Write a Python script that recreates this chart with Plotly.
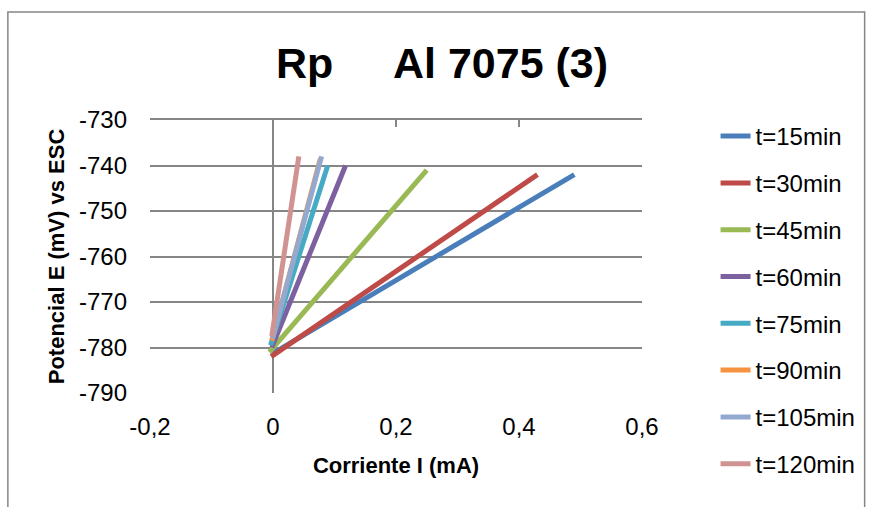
import plotly.graph_objects as go

# ---- data ----
series_names = ["t=15min", "t=30min", "t=45min", "t=60min",
                "t=75min", "t=90min", "t=105min", "t=120min"]
series_colors = ["#4A7EBB", "#BE4B48", "#98B954", "#7D60A0",
                 "#46AAC5", "#F69240", "#93A9CF", "#D19392"]

# current I (mA) and potential E (mV) for each run: [start, end]
i_t15 = [-0.003, 0.49]
e_t15 = [-781.5, -742.0]
i_t30 = [-0.003, 0.43]
e_t30 = [-782.0, -742.0]
i_t45 = [-0.006, 0.25]
e_t45 = [-781.0, -741.0]
i_t60 = [-0.002, 0.118]
e_t60 = [-780.0, -740.0]
i_t75 = [-0.004, 0.089]
e_t75 = [-779.5, -740.0]
i_t90 = [-0.002, 0.077]
e_t90 = [-778.5, -738.5]
i_t105 = [-0.001, 0.079]
e_t105 = [-778.0, -738.0]
i_t120 = [-0.002, 0.042]
e_t120 = [-777.5, -738.0]

x_tickvals = [-0.2, 0.0, 0.2, 0.4, 0.6]
x_ticktext = ["-0,2", "0", "0,2", "0,4", "0,6"]
y_tickvals = [-790, -780, -770, -760, -750, -740, -730]
y_ticktext = ["-790", "-780", "-770", "-760", "-750", "-740", "-730"]

currents = [i_t15, i_t30, i_t45, i_t60, i_t75, i_t90, i_t105, i_t120]
potentials = [e_t15, e_t30, e_t45, e_t60, e_t75, e_t90, e_t105, e_t120]

FONT = "Liberation Sans, Arial, sans-serif"
GRID = "#868686"

fig = go.Figure()
for name, col, xs, ys in zip(series_names, series_colors, currents, potentials):
    fig.add_trace(go.Scatter(
        x=xs, y=ys, mode="lines", name=name, legendgroup=name,
        line=dict(color=col, width=5),
    ))

# invisible trace to carry the top axis (Excel horizontal axis crossing at -730)
fig.add_trace(go.Scatter(x=[x_tickvals[0]], y=[y_tickvals[-1]], xaxis="x2",
                         mode="markers", marker=dict(opacity=0),
                         showlegend=False, hoverinfo="skip"))

fig.update_layout(
    width=872, height=507,
    margin=dict(l=150, r=227, t=120, b=114),
    paper_bgcolor="white", plot_bgcolor="white",
    font=dict(family=FONT, size=24, color="black"),
    title=dict(text="<b>Rp\u00a0\u00a0\u00a0\u00a0\u00a0Al 7075 (3)</b>",
               font=dict(family=FONT, size=43, color="black"),
               x=442 / 872, xref="container", xanchor="center",
               y=1 - 63 / 507, yref="container", yanchor="middle"),
    xaxis=dict(range=[-0.2, 0.6], tickvals=x_tickvals, ticktext=x_ticktext,
               showgrid=False, zeroline=True, zerolinecolor=GRID, zerolinewidth=2,
               showline=False, ticks="", ticklabelstandoff=17,
               tickfont=dict(size=24),
               title=dict(text="<b>Corriente I (mA)</b>", standoff=18,
                          font=dict(size=22))),
    xaxis2=dict(overlaying="x", matches="x", side="top", range=[-0.2, 0.6],
                tickvals=x_tickvals, showticklabels=False,
                showline=True, linecolor=GRID, linewidth=2,
                ticks="inside", ticklen=7, tickwidth=2, tickcolor=GRID,
                showgrid=False, zeroline=False),
    yaxis=dict(range=[-790, -730], tickvals=y_tickvals, ticktext=y_ticktext,
               showgrid=True, gridcolor=GRID, gridwidth=2,
               zeroline=False, showline=False, ticks="",
               ticklabelstandoff=22, tickfont=dict(size=24),
               title=dict(text="<b>Potencial E (mV) vs ESC</b>", standoff=8,
                          font=dict(size=22))),
    legend=dict(x=(719 - 150) / 495, xanchor="left",
                y=(393 - 114) / 273, yanchor="top",
                font=dict(size=24), tracegroupgap=12.6, maxheight=1.0,
                bgcolor="rgba(0,0,0,0)", borderwidth=0),
    showlegend=True,
    shapes=[dict(type="rect", xref="paper", yref="paper",
                 x0=(7 - 150) / 495, x1=(869 - 150) / 495,
                 y0=(393 - 520) / 273, y1=(393 - 12) / 273,
                 line=dict(color=GRID, width=1.5), layer="below")],
)

fig.write_html("out.html")
